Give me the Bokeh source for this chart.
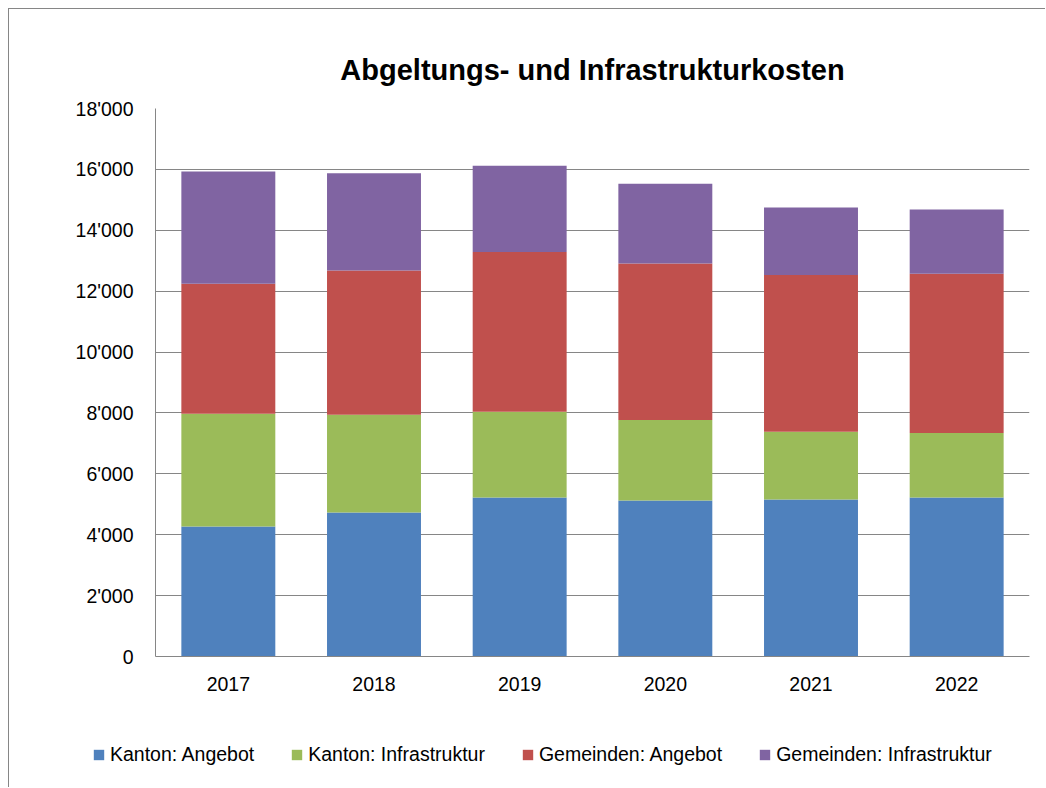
from bokeh.plotting import figure
from bokeh.models import ColumnDataSource, FixedTicker, Legend, LegendItem, Range1d
from bokeh.embed import file_html
from bokeh.resources import INLINE

years = ["2017", "2018", "2019", "2020", "2021", "2022"]
kanton_angebot = [4270, 4730, 5220, 5125, 5160, 5220]
kanton_infra = [3700, 3210, 2820, 2645, 2220, 2120]
gemeinden_angebot = [4270, 4740, 5250, 5140, 5150, 5230]
gemeinden_infra = [3690, 3190, 2830, 2620, 2220, 2110]
series_keys = ["ka", "ki", "ga", "gi"]
series_names = ["Kanton: Angebot", "Kanton: Infrastruktur",
                "Gemeinden: Angebot", "Gemeinden: Infrastruktur"]
colors = ["#4F81BD", "#9BBB59", "#C0504D", "#8064A2"]
y_ticks = [0, 2000, 4000, 6000, 8000, 10000, 12000, 14000, 16000, 18000]
y_tick_labels = ["0", "2'000", "4'000", "6'000", "8'000", "10'000",
                 "12'000", "14'000", "16'000", "18'000"]
title_text = "Abgeltungs- und Infrastrukturkosten"

FONT = "Liberation Sans"
FS = "19.5px"
GRID = "#868686"

source = ColumnDataSource(dict(years=years, ka=kanton_angebot, ki=kanton_infra,
                               ga=gemeinden_angebot, gi=gemeinden_infra))

# main chart
p = figure(x_range=years, y_range=(0, 18000), width=1037, height=700,
           output_backend="svg", toolbar_location=None,
           min_border_left=146, min_border_right=17,
           min_border_top=99, min_border_bottom=53)
p.styles = {"margin-left": "8px", "margin-top": "8px",
            "border-left": "1px solid #868686", "border-top": "1px solid #868686"}

p.vbar_stack(series_keys, x="years", width=0.645, color=colors,
             source=source, line_color=None)

p.title.text = title_text
p.title.text_font = FONT
p.title.text_font_style = "bold"
p.title.text_font_size = "29px"
p.title.align = "center"
p.title.standoff = 46
p.title.text_color = "black"

p.outline_line_color = None
p.xgrid.grid_line_color = None
p.ygrid.grid_line_color = GRID
p.ygrid.grid_line_width = 1

p.yaxis.ticker = FixedTicker(ticks=y_ticks)
p.yaxis.major_label_overrides = {t: l for t, l in zip(y_ticks, y_tick_labels)}
for ax in (p.xaxis, p.yaxis):
    ax.axis_line_color = GRID
    ax.axis_line_width = 1
    ax.major_tick_line_color = None
    ax.minor_tick_line_color = None
    ax.major_tick_out = 0
    ax.major_tick_in = 0
    ax.major_label_text_font = FONT
    ax.major_label_text_font_size = FS
    ax.major_label_text_color = "black"
p.yaxis.major_label_standoff = 22
p.xaxis.major_label_standoff = 20

# legend strip below the chart (same series as hidden renderers)
pl = figure(x_range=years, y_range=Range1d(-2, -1), width=1037, height=79,
            output_backend="svg", toolbar_location=None,
            x_axis_type=None, y_axis_type=None,
            min_border_left=0, min_border_right=0, min_border_top=0, min_border_bottom=0)
pl.styles = {"margin-left": "8px", "border-left": "1px solid #868686"}
pl.outline_line_color = None
pl.xgrid.grid_line_color = None
pl.ygrid.grid_line_color = None
legend_renderers = pl.vbar_stack(series_keys, x="years", width=0.645, color=colors,
                                 source=source, line_color=None)
for r in legend_renderers:
    r.visible = False
items = [LegendItem(label=n, renderers=[r]) for n, r in zip(series_names, legend_renderers)]
legend = Legend(items=items, orientation="horizontal", location=(83, 21),
                label_text_font=FONT, label_text_font_size=FS, label_text_color="black",
                glyph_width=13, glyph_height=13, label_standoff=5, spacing=36,
                padding=0, margin=0, border_line_color=None,
                background_fill_alpha=0, inactive_fill_alpha=0)
pl.add_layout(legend)

open("out.html", "w").write(file_html([p, pl], INLINE))
